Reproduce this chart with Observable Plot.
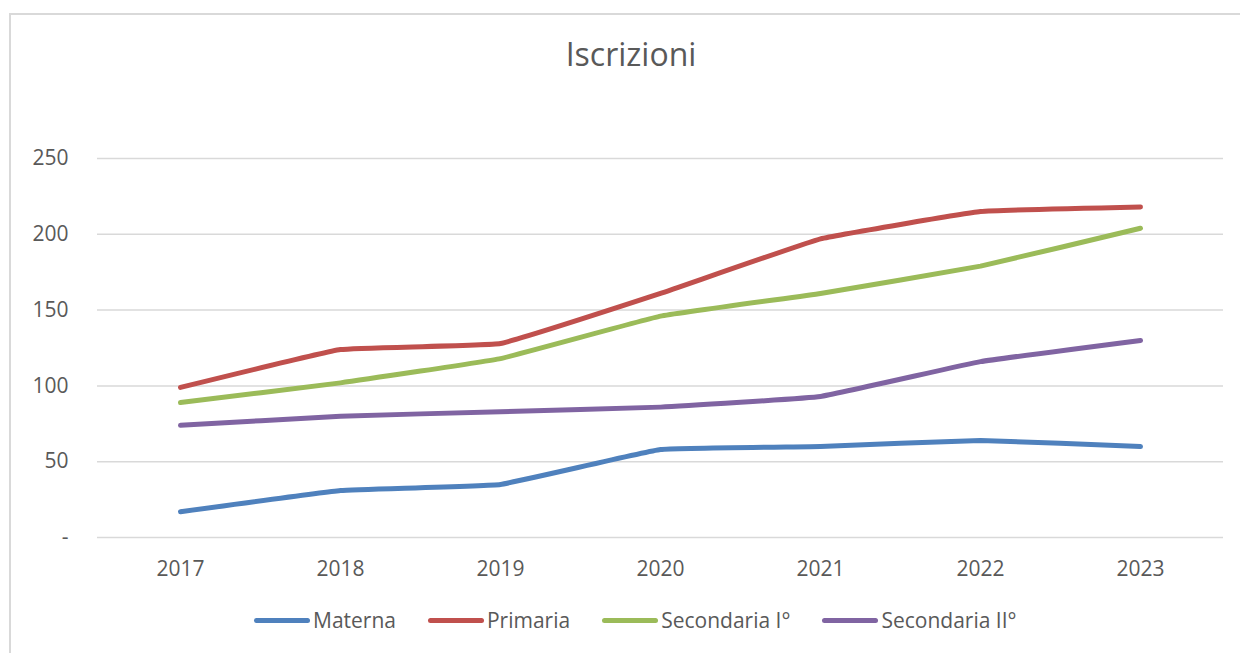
<!DOCTYPE html>
<html>
<head>
<meta charset="utf-8">
<script src="https://cdn.jsdelivr.net/npm/d3@7"></script>
<script src="https://cdn.jsdelivr.net/npm/@observablehq/plot@0.6"></script>
<style>
  html, body { margin: 0; padding: 0; background: #fff; }
  body { width: 1240px; height: 653px; overflow: hidden; position: relative; font-family: "Open Sans", sans-serif; color: #595959; }
  #frame { position: absolute; left: 9px; top: 13px; width: 1300px; height: 700px; border-left: 2px solid #d9d9d9; border-top: 2px solid #d9d9d9; box-sizing: border-box; }
  #title { position: absolute; left: 0; width: 1262px; top: 38px; text-align: center; font-size: 32px; line-height: 32px; }
  #chart { position: absolute; left: 0; top: 100px; }
  #legend { position: absolute; left: 254px; top: 610px; display: flex; align-items: center; gap: 32px; font-size: 21px; line-height: 21px; white-space: nowrap; }
  .item { display: flex; align-items: center; gap: 3px; }
  .sw { width: 56px; height: 5px; border-radius: 3px; }
</style>
</head>
<body>
<div id="frame"></div>
<div id="title"></div>
<div id="chart"></div>
<div id="legend"></div>
<script>
const titleText = "Iscrizioni";
const years = ["2017", "2018", "2019", "2020", "2021", "2022", "2023"];
const seriesNames = ["Materna", "Primaria", "Secondaria I°", "Secondaria II°"];
const materna = [17, 31, 35, 58, 60, 64, 60];
const primaria = [99, 124, 128, 161, 197, 215, 218];
const secondariaI = [89, 102, 118, 146, 161, 179, 204];
const secondariaII = [74, 80, 83, 86, 93, 116, 130];
const yTicks = [0, 50, 100, 150, 200, 250];
const yTickLabels = ["-", "50", "100", "150", "200", "250"];
const colors = ["#4F81BD", "#C0504D", "#9BBB59", "#8064A2"];

const seriesValues = [materna, primaria, secondariaI, secondariaII];
const rows = [];
seriesNames.forEach((name, i) => {
  years.forEach((yr, j) => rows.push({series: name, year: yr, value: seriesValues[i][j]}));
});

document.getElementById("title").textContent = titleText;

const chart = Plot.plot({
  width: 1240,
  height: 500,
  marginLeft: 97,
  marginRight: 17,
  marginTop: 58,
  marginBottom: 63,
  style: {fontFamily: "Open Sans", fontSize: "21px", color: "#595959", background: "transparent"},
  x: {type: "point", domain: years, padding: 0.5, label: null},
  y: {domain: [0, 250], label: null},
  color: {domain: seriesNames, range: colors},
  marks: [
    Plot.gridY(yTicks, {stroke: "#d9d9d9", strokeOpacity: 1, strokeWidth: 1.5}),
    Plot.axisY(yTicks, {tickSize: 0, tickPadding: 29, label: null,
      tickFormat: d => yTickLabels[yTicks.indexOf(d)], fontSize: 21}),
    Plot.axisX({tickSize: 0, tickPadding: 24, label: null, fontSize: 21}),
    Plot.line(rows, {x: "year", y: "value", z: "series", stroke: "series",
      strokeWidth: 5, curve: "cardinal", tension: 0.75, strokeLinecap: "round", strokeLinejoin: "round"})
  ]
});
document.getElementById("chart").appendChild(chart);

const legend = document.getElementById("legend");
seriesNames.forEach((name, i) => {
  const item = document.createElement("div");
  item.className = "item";
  const sw = document.createElement("div");
  sw.className = "sw";
  sw.style.background = colors[i];
  const t = document.createElement("span");
  t.textContent = name;
  item.appendChild(sw);
  item.appendChild(t);
  legend.appendChild(item);
});
</script>
</body>
</html>
